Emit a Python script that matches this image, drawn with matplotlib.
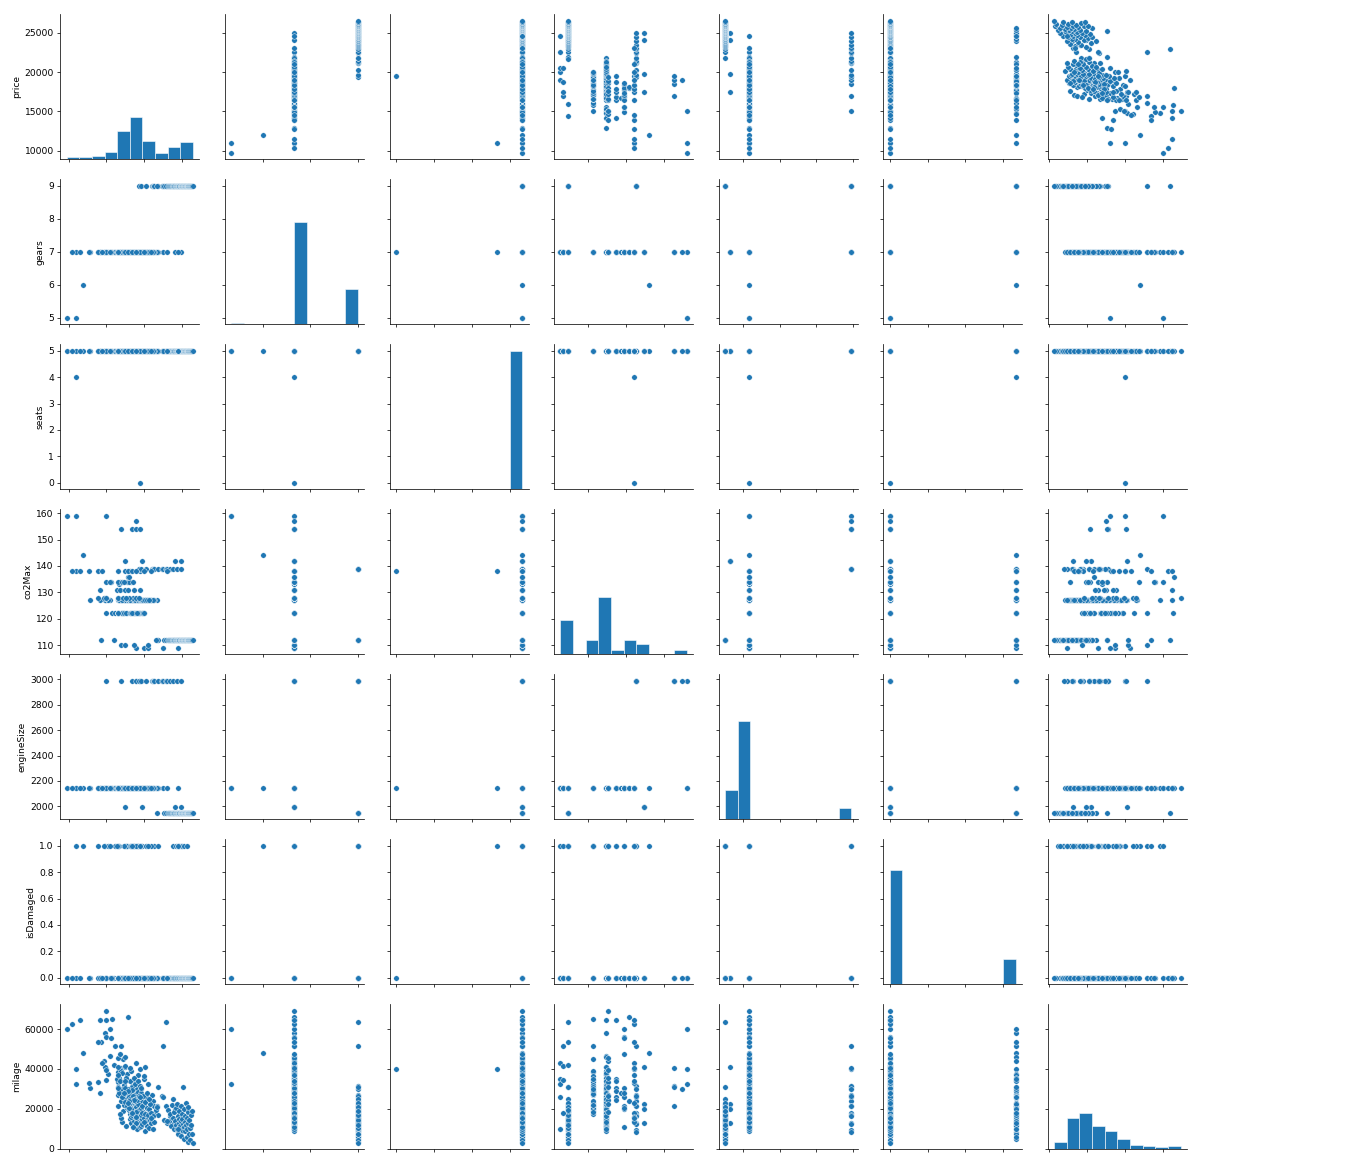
import matplotlib
matplotlib.use("Agg")
import matplotlib.pyplot as plt
import pandas as pd
from matplotlib.ticker import MaxNLocator

columns = ["price", "gears", "seats", "co2Max", "engineSize", "isDamaged", "milage"]

# --- cars, grouped by engine / gearbox / co2 -----------------------------
# 2143cc, 5 gears, co2 159
price_g5 = [9750, 10960]
milage_g5 = [60000, 32400]
damaged_g5 = [0, 0]

# 2143cc, 6 gears, co2 144
price_g6 = [11960]
milage_g6 = [47800]
damaged_g6 = [1]

# 2143cc, 4 seats / 0 seats, co2 138
price_s4 = [10960]
milage_s4 = [40000]
damaged_s4 = [1]
price_s0 = [19500]
milage_s0 = [40000]
damaged_s0 = [0]

# 2987cc, 7 gears
co2_2987_7 = [159, 157, 154, 154, 154, 154]
price_2987_7 = [15000, 18950, 16950, 18450, 18950, 19500]
milage_2987_7 = [40000, 29900, 40500, 31350, 30800, 21600]
damaged_2987_7 = [0, 0, 0, 0, 0, 0]

# 1991cc, 7 gears, co2 142
price_1991 = [17450, 19730, 24090, 24950]
milage_1991 = [41000, 22400, 19800, 12900]
damaged_1991 = [0, 0, 0, 0]

# 2987cc, 9 gears, co2 139
price_2987_9 = [19400, 19650, 20300, 21100, 21200, 21300, 21350, 21800,
                22450, 22540, 22900, 23080, 23500, 23900, 24400, 24950]
milage_2987_9 = [31350, 29700, 26100, 27000, 24000, 21200, 18000, 16900,
                 26200, 51600, 21300, 12600, 16500, 12400, 9400, 8300]
damaged_2987_9 = [0, 0, 0, 0, 0, 1, 0, 0, 0, 0, 0, 0, 0, 1, 0, 1]

# 1950cc, 9 gears, co2 112
price_1950 = [21770, 22600, 22900,
              23150, 23300, 23400, 23600, 23700, 23800, 23900, 24000, 24050, 24150,
              24200, 24300, 24400, 24400, 24500, 24550, 24600, 24650, 24700,
              24800, 24850, 24900, 24950, 25000, 25050, 25100, 25170, 25200, 25250,
              25300, 25350, 25400, 25450, 25500, 25550, 25600, 25650, 25700, 25750,
              25800, 25850, 25900, 25900, 25950, 26000, 26050, 26100, 26200, 26300,
              26400, 26400, 26500]
milage_1950 = [21300, 14500, 63300,
               19500, 13800, 17200, 11200, 22000, 15600, 24800, 9800, 18400, 14000,
               12000, 20500, 10000, 22500, 16200, 7400, 12800, 18900, 15000,
               11500, 21500, 13600, 6200, 17600, 9200, 14800, 30800, 12300, 19800,
               4800, 10800, 16400, 8700, 13100, 22800, 11800, 5800, 15600, 9900,
               18600, 12600, 3100, 20800, 7100, 14200, 10300, 4100, 16800, 12000,
               7500, 19000, 2950]
damaged_1950 = [0, 0, 0,
                0, 0, 0, 0, 0, 0, 0, 0, 0, 0,
                1, 0, 0, 0, 0, 1, 0, 0, 1,
                0, 0, 0, 0, 1, 0, 0, 0, 0, 0,
                1, 0, 0, 0, 0, 0, 0, 1, 0, 0,
                0, 0, 0, 0, 0, 0, 0, 0, 0, 0,
                0, 0, 0]

# 2143cc, 7 gears, by co2
price_109 = [18950, 20000, 20500, 22540, 24520]
milage_109 = [42700, 35000, 32400, 25900, 9800]
damaged_109 = [0, 0, 0, 0, 1]

price_110 = [16950, 17500, 18720, 20490]
milage_110 = [51300, 41400, 34600, 17700]
damaged_110 = [0, 0, 1, 0]

price_112 = [14360, 16000, 21900, 21600]
milage_112 = [53600, 41800, 30800, 19500]
damaged_112 = [0, 0, 1, 0]

price_122 = [15800, 16100, 17200, 16600, 17000, 19950, 15000,
             16600, 17250, 16550, 17100, 17800, 16600, 17300, 17650,
             18200, 18500, 18870, 19180, 19480, 18260, 18640, 19000, 19360, 19720,
             18400, 19050, 19850, 20000]
milage_122 = [65200, 51700, 44800, 38500, 39000, 36500, 34600,
              21400, 18700, 26800, 28600, 27400, 33200, 31900, 34700,
              17600, 21600, 19700, 20600, 21800, 27600, 28900, 27200, 23100, 24000,
              30700, 29700, 18600, 21900]
damaged_122 = [0, 1, 0, 0, 0, 0, 0,
               1, 0, 0, 0, 1, 0, 0, 0,
               0, 1, 0, 0, 0, 0, 1, 0, 0, 0,
               0, 1, 0, 0]

price_127 = [15030, 14800, 15500, 14800, 15300, 12900, 14200, 21780, 17450, 17800, 18300, 16500, 19200, 20100,
             17100, 17600, 16900,
             17700, 16800, 18000, 17400,
             16900, 17350, 17550, 18050, 16700,
             16950, 17900, 16750,
             17150,
             18150, 18300, 18450, 18550, 18700, 18800, 18950, 19050, 19150, 19250, 19350, 19450, 19550, 19650, 18250, 18900, 19700,
             18120, 18280, 18350, 18420, 18580, 18650, 18720, 18800, 18950, 19020, 19100, 19250, 19330, 19400, 19550, 19620, 19700, 19760,
             18130, 18380, 18510, 18760, 18880, 19120, 19240, 19480, 19600, 18450,
             18200, 18650, 18850, 19250, 19450, 19650,
             19800, 19950, 20100, 20250, 20400, 20550, 20700, 20850, 21000, 21150, 21350,
             20200, 20350, 20500, 20650, 20800, 21000, 21250,
             19900, 20150, 20450, 20700]
milage_127 = [64700, 58200, 46500, 41000, 37400, 30500, 27800, 21000, 45800, 37200, 38800, 40700, 36800, 40700,
              13200, 11400, 15100,
              20300, 17300, 19200, 22100,
              24100, 25300, 23600, 25900, 29000,
              30100, 29800, 35600,
              37800,
              14700, 12600, 15800, 10900, 13900, 11800, 15300, 9900, 14300, 12200, 15900, 10600, 13500, 11500, 16000, 12900, 14900,
              20800, 22400, 19400, 16800, 18300, 20100, 22700, 17100, 21100, 16500, 18800, 22200, 17900, 19200, 16900, 20400, 18100, 21300,
              24800, 23300, 26200, 25100, 23900, 24400, 28300, 25700, 27900, 29200,
              33800, 35400, 32200, 34100, 31400, 30200,
              12100, 15400, 8600, 13800, 11200, 15900, 10400, 14100, 12700, 9900, 13300,
              17300, 20400, 16700, 19800, 22500, 18000, 16400,
              26400, 23400, 28100, 24700]
damaged_127 = [0, 1, 0, 0, 1, 0, 0, 0, 1, 0, 0, 0, 1, 0,
               0, 1, 0,
               1, 0, 0, 0,
               0, 1, 0, 0, 0,
               0, 0, 1,
               0,
               0, 0, 1, 0, 0, 0, 0, 1, 0, 0, 0, 0, 1, 0, 0, 0, 0,
               0, 1, 0, 0, 0, 0, 1, 0, 0, 0, 0, 1, 0, 0, 0, 0, 1, 0,
               0, 0, 1, 0, 0, 0, 0, 1, 0, 0,
               1, 0, 0, 0, 0, 0,
               0, 0, 0, 1, 0, 0, 0, 0, 1, 0, 0,
               0, 0, 1, 0, 0, 0, 0,
               0, 0, 0, 0]

price_128 = [15030, 14700, 15000, 16500, 13900, 18600, 16600, 17200, 18000, 18900, 19400, 17600]
milage_128 = [69100, 44000, 39600, 45600, 33500, 24300, 31000, 27000, 22500, 18500, 26500, 35500]
damaged_128 = [0, 1, 0, 0, 0, 0, 1, 0, 0, 1, 0, 0]

price_131 = [14130, 16450, 16770, 17450, 19500, 18700, 17900]
milage_131 = [64700, 35100, 33900, 30300, 26100, 24500, 29000]
damaged_131 = [0, 1, 0, 0, 1, 0, 0]

price_133 = [16700]
milage_133 = [27900]
damaged_133 = [0]

price_134 = [14960, 15590, 15550, 16800, 16500, 17040, 17780, 18300, 18000, 18600, 17300]
milage_134 = [55800, 55300, 60000, 47400, 30600, 25800, 21600, 19800, 20500, 11000, 28000]
damaged_134 = [0, 0, 1, 0, 0, 0, 0, 1, 0, 0, 0]

price_136 = [17950, 18050]
milage_136 = [65800, 24000]
damaged_136 = [0, 0]

price_138 = [10400, 11460, 12730, 13870, 14500, 16500, 18200, 23040, 17450, 17900, 18400, 19000, 20000, 21000]
milage_138 = [62300, 64700, 32800, 53700, 42900, 36900, 40200, 14000, 33700, 23000, 17800, 16000, 13500, 15200]
damaged_138 = [0, 0, 0, 1, 0, 0, 0, 0, 0, 0, 1, 0, 0, 0]

# engineSize, gears, seats, co2Max, price, milage, isDamaged
groups = [
    (2143, 5, 5, 159, price_g5, milage_g5, damaged_g5),
    (2143, 6, 5, 144, price_g6, milage_g6, damaged_g6),
    (2143, 7, 4, 138, price_s4, milage_s4, damaged_s4),
    (2143, 7, 0, 138, price_s0, milage_s0, damaged_s0),
    (2987, 7, 5, co2_2987_7, price_2987_7, milage_2987_7, damaged_2987_7),
    (1991, 7, 5, 142, price_1991, milage_1991, damaged_1991),
    (2987, 9, 5, 139, price_2987_9, milage_2987_9, damaged_2987_9),
    (1950, 9, 5, 112, price_1950, milage_1950, damaged_1950),
    (2143, 7, 5, 109, price_109, milage_109, damaged_109),
    (2143, 7, 5, 110, price_110, milage_110, damaged_110),
    (2143, 7, 5, 112, price_112, milage_112, damaged_112),
    (2143, 7, 5, 122, price_122, milage_122, damaged_122),
    (2143, 7, 5, 127, price_127, milage_127, damaged_127),
    (2143, 7, 5, 128, price_128, milage_128, damaged_128),
    (2143, 7, 5, 131, price_131, milage_131, damaged_131),
    (2143, 7, 5, 133, price_133, milage_133, damaged_133),
    (2143, 7, 5, 134, price_134, milage_134, damaged_134),
    (2143, 7, 5, 136, price_136, milage_136, damaged_136),
    (2143, 7, 5, 138, price_138, milage_138, damaged_138),
]

rows = []
for engine, gears, seats, co2, prices, milages, damaged in groups:
    co2s = co2 if isinstance(co2, list) else [co2] * len(prices)
    for p, c, m, d in zip(prices, co2s, milages, damaged):
        rows.append((p, gears, seats, c, engine, d, m))
df = pd.DataFrame(rows, columns=columns)

# --- pair grid -------------------------------------------------------------
W, H, DPI = 1366, 1166, 66
fig = plt.figure(figsize=(W / DPI, H / DPI), dpi=DPI)

n = len(columns)
left0, top0, step_x, step_y = 60.3, 14.3, 164.6, 165.0
ax_w, ax_h = 139, 145
blue = "#1f77b4"

axes = [[None] * n for _ in range(n)]
for i in range(n):
    for j in range(n):
        left = left0 + step_x * j
        top = top0 + step_y * i
        rect = [left / W, 1 - (top + ax_h) / H, ax_w / W, ax_h / H]
        sx = axes[0][j] if i > 0 else None
        sy = axes[i][0] if j > 0 else None
        axes[i][j] = fig.add_axes(rect, sharex=sx, sharey=sy)

diag_axes = []
for i, yvar in enumerate(columns):
    for j, xvar in enumerate(columns):
        ax = axes[i][j]
        if i == j:
            dax = ax.twinx()
            if diag_axes:
                dax.sharey(diag_axes[0])
            dax.hist(df[xvar], bins=10, color=blue, edgecolor="white", linewidth=0.6)
            dax.set_axis_off()
            diag_axes.append(dax)
        else:
            ax.scatter(df[xvar], df[yvar], s=36, color=blue,
                       edgecolor="white", linewidth=0.48)
        for side in ("top", "right"):
            ax.spines[side].set_visible(False)
        ax.xaxis.set_major_locator(MaxNLocator(nbins=4))
        ax.tick_params(labelbottom=False, labelleft=(j == 0), labelsize=10)
        if j == 0:
            ax.set_ylabel(yvar, fontsize=10)

fig.savefig("out.png", dpi=DPI)
